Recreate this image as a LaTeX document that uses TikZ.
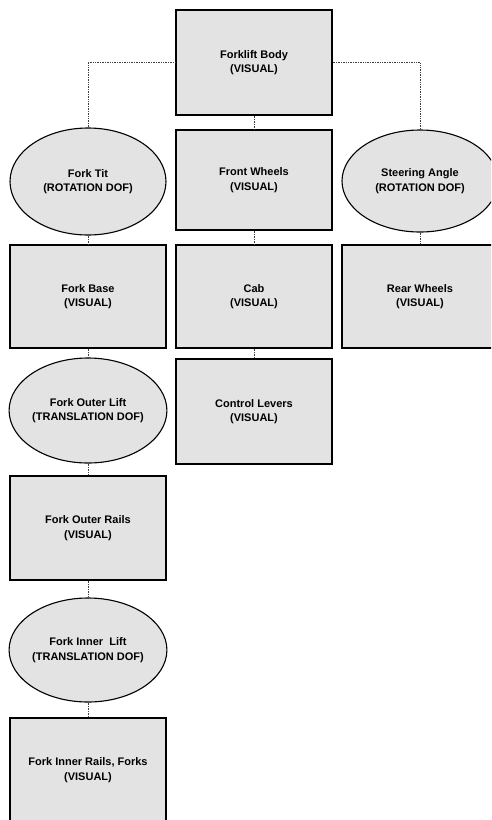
\documentclass[tikz,border=0pt]{standalone}
\usepackage{fontspec}
\setmainfont{Liberation Sans}
\usetikzlibrary{shapes.geometric}
\begin{document}
\begin{tikzpicture}[x=1pt,y=-1pt,
  shp/.style={draw=black,line width=1.1pt,fill=black!11,inner sep=0pt,
    font=\fontsize{11}{14.5}\selectfont\bfseries,align=center},
  boxnode/.style={shp,rectangle,minimum width=156pt},
  ellnode/.style={shp,ellipse,minimum width=156pt},
  link/.style={draw=black!75,densely dotted,line width=0.7pt}]
\clip (0,0) rectangle (491,820);
\fill[white] (0,0) rectangle (491,820);
\node[boxnode,minimum height=105pt] (body) at (254,62.5) {Forklift Body\\(VISUAL)};
\node[boxnode,minimum height=100pt] (front) at (254,180) {Front Wheels\\(VISUAL)};
\node[ellnode,minimum height=107pt] (tilt) at (88,181.5) {Fork Tit\\(ROTATION DOF)};
\node[ellnode,minimum height=102pt] (steer) at (420,181) {Steering Angle\\(ROTATION DOF)};
\node[boxnode,minimum height=103pt] (base) at (88,296.5) {Fork Base\\(VISUAL)};
\node[boxnode,minimum height=103pt] (cab) at (254,296.5) {Cab\\(VISUAL)};
\node[boxnode,minimum height=103pt] (rear) at (420,296.5) {Rear Wheels\\(VISUAL)};
\node[boxnode,minimum height=105pt] (levers) at (254,411.5) {Control Levers\\(VISUAL)};
\node[ellnode,minimum height=105pt] (outerlift) at (88,410.5) {Fork Outer Lift\\(TRANSLATION DOF)};
\node[boxnode,minimum height=104pt] (outerrails) at (88,528) {Fork Outer Rails\\(VISUAL)};
\node[ellnode,minimum height=104pt] (innerlift) at (88,650) {Fork Inner\ \ Lift\\(TRANSLATION DOF)};
\node[boxnode,minimum height=104pt] (innerrails) at (88,770) {Fork Inner Rails, Forks\\(VISUAL)};
\draw[link] (body.west) -| (tilt.north);
\draw[link] (body.east) -| (steer.north);
\draw[link] (body.south) -- (front.north);
\draw[link] (front.south) -- (cab.north);
\draw[link] (cab.south) -- (levers.north);
\draw[link] (tilt.south) -- (base.north);
\draw[link] (steer.south) -- (rear.north);
\draw[link] (base.south) -- (outerlift.north);
\draw[link] (outerlift.south) -- (outerrails.north);
\draw[link] (outerrails.south) -- (innerlift.north);
\draw[link] (innerlift.south) -- (innerrails.north);
\end{tikzpicture}
\end{document}
